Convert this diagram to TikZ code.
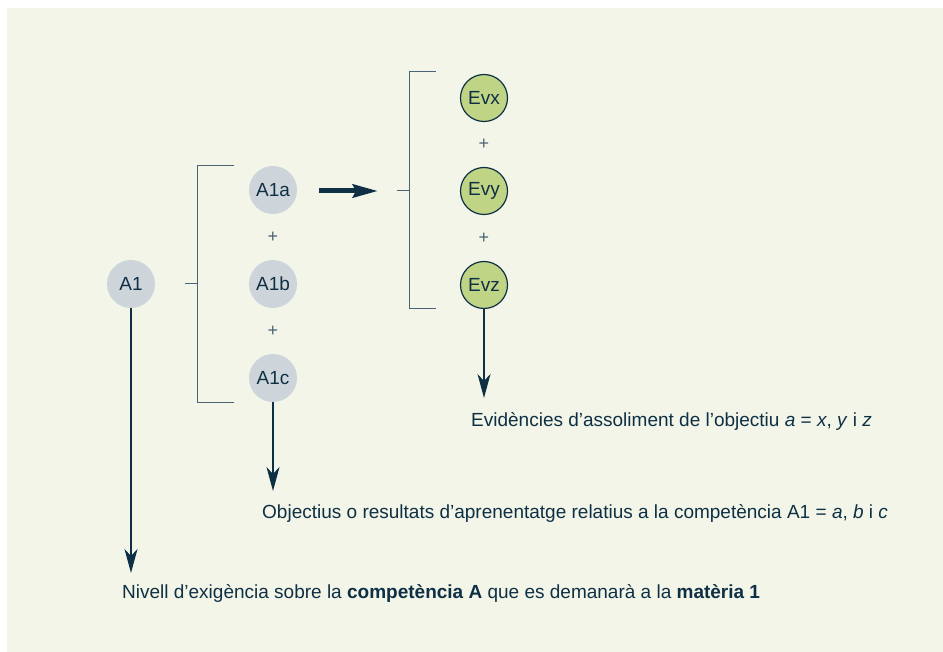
\documentclass[tikz,border=0pt]{standalone}
\usepackage{fontspec}
\setmainfont{Liberation Sans}
\usetikzlibrary{arrows.meta, positioning}
\definecolor{bgpale}{HTML}{F2F5E8}
\definecolor{inkblue}{HTML}{0F3044}
\definecolor{greycirc}{HTML}{CDD5DB}
\definecolor{evgreen}{HTML}{BFD485}
\definecolor{brackgrey}{HTML}{4A6372}
\tikzset{
    objcirc/.style={
        circle,
        fill=greycirc,
        minimum size=48pt,
        inner sep=0pt,
        text=inkblue,
        font=\fontsize{19}{22}\selectfont,
    },
    evcirc/.style={
        circle,
        draw=inkblue,
        line width=1.2pt,
        fill=evgreen,
        minimum size=47pt,
        inner sep=0pt,
        text=inkblue,
        font=\fontsize{19}{22}\selectfont,
    },
    plus/.style={
        text=brackgrey,
        font=\fontsize{18}{20}\selectfont,
    },
    caption/.style={
        anchor=west,
        inner sep=0pt,
        text=inkblue,
        font=\fontsize{19}{22}\selectfont,
    },
    bracket/.style={
        draw=brackgrey,
        line width=1pt,
    },
    downarrow/.style={
        draw=inkblue,
        line width=1.2pt,
        -{Stealth[length=24pt,width=13pt,inset=7pt]},
    },
}

\begin{document}
\begin{tikzpicture}[x=1pt,y=-1pt]
    \useasboundingbox (0,0) rectangle (943,652);
    \fill[bgpale] (7,8) rectangle (943,652);

    % competence and its objectives
    \node [objcirc] (A1) at (131,284) {A1};
    \node [objcirc] (A1a) at (273,190) {A1a};
    \node [objcirc] (A1b) at (273,284) {A1b};
    \node [objcirc] (A1c) at (273,378) {A1c};
    \node [plus] (plusab) at (273,237) {+};
    \node [plus] (plusbc) at (273,331) {+};

    % evidences
    \node [evcirc] (Evx) at (484,98) {Evx};
    \node [evcirc] (Evy) at (484,191) {Evy};
    \node [evcirc] (Evz) at (484,285) {Evz};
    \node [plus] (plusxy) at (484,144) {+};
    \node [plus] (plusyz) at (484,238) {+};

    % brackets
    \draw [bracket] (234,166) -- (197,166) -- (197,403) -- (234,403);
    \draw [bracket] (185,284) -- (197,284);
    \draw [bracket] (436,72) -- (409,72) -- (409,309) -- (436,309);
    \draw [bracket] (397,191) -- (409,191);

    \coordinate (thickstart) at (319,191);
    \coordinate (thickend) at (378,191);
    \draw [inkblue, line width=5pt, -{Stealth[length=25pt,width=13pt,inset=3pt]}] (thickstart) -- (thickend);

    % captions
    \node [caption] (evtext) at (471,421) {Evidències d’assoliment de l’objectiu \textit{a} = \textit{x}, \textit{y} i \textit{z}};
    \node [caption] (objtext) at (262,513) {Objectius o resultats d’aprenentatge relatius a la competència A1 = \textit{a}, \textit{b} i \textit{c}};
    \node [caption] (niveltext) at (122,593) {Nivell d’exigència sobre la \textbf{competència A} que es demanarà a la \textbf{matèria 1}};

    \coordinate (evtip) at (484,398);
    \coordinate (objtip) at (273,491);
    \coordinate (niveltip) at (131,573);
    \draw [downarrow] (Evz) -- (evtip);
    \draw [downarrow] (A1c) -- (objtip);
    \draw [downarrow] (A1) -- (niveltip);
\end{tikzpicture}
\end{document}
